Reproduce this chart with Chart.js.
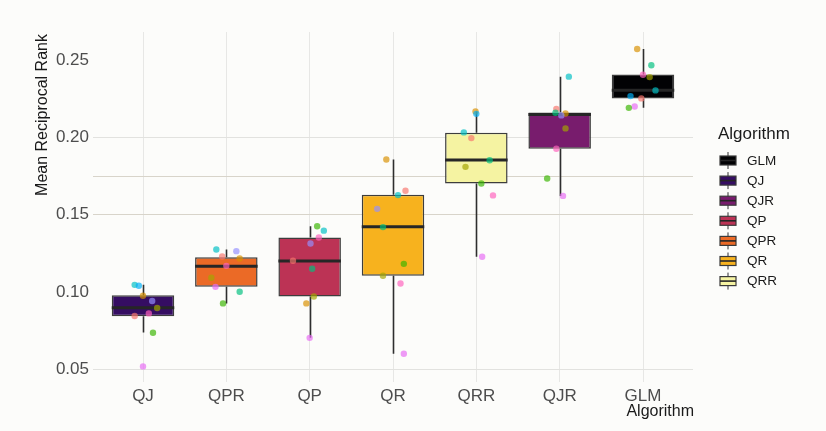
<!DOCTYPE html>
<html>
<head>
<meta charset="utf-8">
<script src="https://cdn.jsdelivr.net/npm/chart.js@4/dist/chart.umd.min.js"></script>
<style>
  html, body { margin: 0; padding: 0; background: #fcfcfa; }
  #wrap { width: 826px; height: 431px; position: relative; }
</style>
</head>
<body>
<div id="wrap"><canvas id="c" width="826" height="431"></canvas></div>
<script>
// Algorithms in plotting order along the x axis
const categories = ['QJ', 'QPR', 'QP', 'QR', 'QRR', 'QJR', 'GLM'];

// Box-plot summaries (mean reciprocal rank)
const boxLow    = [0.0738, 0.0926, 0.0703, 0.0600, 0.1228, 0.1622, 0.2192];
const boxQ1     = [0.0842, 0.1033, 0.0971, 0.1105, 0.1702, 0.1927, 0.2252];
const boxMedian = [0.0897, 0.1167, 0.1200, 0.1422, 0.1855, 0.2149, 0.2306];
const boxQ3     = [0.0978, 0.1224, 0.1353, 0.1629, 0.2030, 0.2162, 0.2408];
const boxHigh   = [0.1046, 0.1275, 0.1425, 0.1858, 0.2168, 0.2394, 0.2573];

// Fill colour of each box (same order as categories)
const boxFill = ['#350D62', '#EB6A26', '#BC3355', '#F7B21E', '#F5F3A2', '#781C6D', '#020204'];

// Legend entries, alphabetical
const legendOrder = ['GLM', 'QJ', 'QJR', 'QP', 'QPR', 'QR', 'QRR'];

// Axis ticks and the horizontal guide lines that are drawn
const yTicks = [0.05, 0.10, 0.15, 0.20, 0.25];
const yGuides = [0.05, 0.15, 0.175, 0.20];

// Individual runs, one row per algorithm
const pointValues = [
  [0.1046, 0.1040, 0.0975, 0.0941, 0.0896, 0.0861, 0.0844, 0.0736, 0.0518],
  [0.1275, 0.1264, 0.1230, 0.1217, 0.1169, 0.1092, 0.1033, 0.1001, 0.0926],
  [0.1425, 0.1397, 0.1353, 0.1314, 0.1202, 0.1150, 0.0971, 0.0926, 0.0703],
  [0.1858, 0.1655, 0.1627, 0.1538, 0.1420, 0.1182, 0.1105, 0.1055, 0.0600],
  [0.2168, 0.2153, 0.2033, 0.1996, 0.1853, 0.1810, 0.1702, 0.1625, 0.1228],
  [0.2394, 0.2185, 0.2160, 0.2155, 0.2143, 0.2059, 0.1927, 0.1735, 0.1622],
  [0.2573, 0.2468, 0.2406, 0.2391, 0.2305, 0.2268, 0.2253, 0.2201, 0.2192]
];
// Horizontal jitter of each run, in category units
const pointJitter = [
  [-0.10, -0.05, 0.00, 0.11, 0.17, 0.07, -0.10, 0.12, 0.00],
  [-0.12, 0.12, -0.05, 0.16, 0.00, -0.18, -0.13, 0.16, -0.04],
  [0.09, 0.17, 0.11, 0.01, -0.20, 0.03, 0.05, -0.04, 0.00],
  [-0.08, 0.15, 0.06, -0.19, -0.12, 0.13, -0.12, 0.09, 0.13],
  [-0.01, 0.00, -0.15, -0.06, 0.16, -0.13, 0.06, 0.20, 0.07],
  [0.11, -0.04, -0.05, 0.07, 0.02, 0.07, -0.04, -0.15, 0.04],
  [-0.07, 0.10, 0.00, 0.08, 0.15, -0.15, -0.02, -0.10, -0.17]
];
// Colour index of each run
const pointColour = [
  [5, 6, 1, 7, 2, 9, 0, 3, 8],
  [5, 7, 0, 1, 9, 2, 8, 4, 3],
  [3, 5, 9, 7, 0, 4, 2, 1, 8],
  [1, 0, 5, 7, 4, 3, 2, 9, 8],
  [1, 6, 5, 0, 4, 2, 3, 9, 8],
  [5, 0, 4, 1, 7, 2, 9, 3, 8],
  [1, 4, 9, 2, 5, 6, 0, 8, 3]
];
const pointPalette = ['#F8766D', '#D89000', '#A3A500', '#39B600', '#00BF7D',
                      '#00BFC4', '#00B0F6', '#9590FF', '#E76BF3', '#FF62BC'];

const FONT = '"Liberation Sans", Arial, sans-serif';

function withAlpha(hex, a) {
  const n = parseInt(hex.slice(1), 16);
  return `rgba(${(n >> 16) & 255},${(n >> 8) & 255},${n & 255},${a})`;
}

const runPoints = [];
const runColours = [];
categories.forEach((c, i) => {
  pointValues[i].forEach((v, j) => {
    runPoints.push({ x: i + pointJitter[i][j], y: v });
    runColours.push(withAlpha(pointPalette[pointColour[i][j]], 0.68));
  });
});

const boxPlotPlugin = {
  id: 'boxPlot',
  beforeDraw(chart) {
    const ctx = chart.ctx;
    ctx.save();
    ctx.fillStyle = '#fcfcfa';
    ctx.fillRect(0, 0, chart.width, chart.height);
    ctx.restore();
  },
  beforeDatasetDraw(chart, args) {
    if (args.index !== 1) return;
    const { ctx, scales: { x, y } } = chart;
    ctx.save();
    ctx.strokeStyle = '#2e2e2e';
    ctx.lineWidth = 1.6;
    categories.forEach((c, i) => {
      const px = Math.round(x.getPixelForValue(i)) + 0.5;
      ctx.beginPath();
      ctx.moveTo(px, y.getPixelForValue(boxHigh[i]));
      ctx.lineTo(px, y.getPixelForValue(boxQ3[i]));
      ctx.moveTo(px, y.getPixelForValue(boxQ1[i]));
      ctx.lineTo(px, y.getPixelForValue(boxLow[i]));
      ctx.stroke();
    });
    ctx.restore();
  },
  afterDatasetDraw(chart, args) {
    if (args.index !== 1) return;
    const { ctx, scales: { y } } = chart;
    const meta = chart.getDatasetMeta(1);
    ctx.save();
    ctx.strokeStyle = '#262626';
    ctx.lineWidth = 3;
    meta.data.forEach((bar, i) => {
      const py = y.getPixelForValue(boxMedian[i]);
      ctx.beginPath();
      ctx.moveTo(bar.x - bar.width / 2, py);
      ctx.lineTo(bar.x + bar.width / 2, py);
      ctx.stroke();
    });
    ctx.restore();
  },
  afterDraw(chart) {
    const { ctx, chartArea } = chart;
    ctx.save();
    // axis titles
    ctx.fillStyle = '#1a1a1a';
    ctx.font = `16px ${FONT}`;
    ctx.textBaseline = 'middle';
    ctx.textAlign = 'right';
    ctx.fillText('Algorithm', chartArea.right + 1, 412);
    ctx.save();
    ctx.translate(43, 115);
    ctx.rotate(-Math.PI / 2);
    ctx.textAlign = 'center';
    ctx.fillText('Mean Reciprocal Rank', 0, 0);
    ctx.restore();

    // legend
    ctx.textAlign = 'left';
    ctx.font = `17px ${FONT}`;
    ctx.fillText('Algorithm', 718, 134);
    ctx.font = `13.5px ${FONT}`;
    legendOrder.forEach((name, k) => {
      const yc = 160.5 + k * 20.1;
      const fill = boxFill[categories.indexOf(name)];
      const kx = 720, kw = 16;
      ctx.strokeStyle = '#333333';
      ctx.lineWidth = 1;
      ctx.beginPath();
      ctx.moveTo(kx + kw / 2, yc - 8.5);
      ctx.lineTo(kx + kw / 2, yc + 8.5);
      ctx.stroke();
      ctx.fillStyle = fill;
      ctx.fillRect(kx, yc - 4.5, kw, 9);
      ctx.lineWidth = 1.2;
      ctx.strokeStyle = '#3a3a3a';
      ctx.strokeRect(kx, yc - 4.5, kw, 9);
      ctx.lineWidth = 1.6;
      ctx.strokeStyle = '#262626';
      ctx.beginPath();
      ctx.moveTo(kx, yc);
      ctx.lineTo(kx + kw, yc);
      ctx.stroke();
      ctx.fillStyle = '#1a1a1a';
      ctx.fillText(name, 747, yc + 0.5);
    });
    ctx.restore();
  }
};

new Chart(document.getElementById('c'), {
  type: 'bar',
  data: {
    datasets: [
      {
        type: 'scatter',
        order: 1,
        data: runPoints,
        pointBackgroundColor: runColours,
        pointBorderWidth: 0,
        pointRadius: 3.2,
        pointHoverRadius: 3.2
      },
      {
        type: 'bar',
        order: 2,
        data: categories.map((c, i) => ({ x: i, y: [boxQ1[i], boxQ3[i]] })),
        backgroundColor: boxFill,
        borderColor: '#3d3d3d',
        borderWidth: 1.5,
        borderSkipped: false,
        barPercentage: 0.75,
        categoryPercentage: 1.0,
        grouped: false
      }
    ]
  },
  options: {
    responsive: false,
    animation: false,
    events: [],
    layout: { padding: { top: 32, right: 133, left: 0, bottom: 0 } },
    plugins: { legend: { display: false }, tooltip: { enabled: false } },
    scales: {
      x: {
        type: 'linear',
        min: -0.6,
        max: 6.6,
        offset: false,
        afterBuildTicks: s => { s.ticks = categories.map((c, i) => ({ value: i })); },
        afterFit: s => { s.height = 49; },
        grid: { color: '#e7e7e5', lineWidth: 1, drawTicks: false, offset: false },
        border: { display: false },
        ticks: {
          autoSkip: false,
          maxRotation: 0,
          padding: 4,
          color: '#4d4d4d',
          font: { family: FONT, size: 17 },
          callback: v => categories[v]
        }
      },
      y: {
        type: 'linear',
        min: 0.0417,
        max: 0.2683,
        afterBuildTicks: s => {
          s.ticks = [0.05, 0.10, 0.15, 0.175, 0.20, 0.25].map(v => ({ value: v }));
        },
        afterFit: s => { s.width = 93; },
        grid: {
          drawTicks: false,
          lineWidth: 1,
          color: c => {
            const v = c.tick ? c.tick.value : null;
            if (!yGuides.includes(v)) return 'rgba(0,0,0,0)';
            return (v === 0.15 || v === 0.175) ? '#d8d4ca' : '#e2e2df';
          }
        },
        border: { display: false },
        ticks: {
          padding: 4,
          color: '#4d4d4d',
          font: { family: FONT, size: 17 },
          callback: v => (yTicks.includes(v) ? v.toFixed(2) : '')
        }
      }
    }
  },
  plugins: [boxPlotPlugin]
});
</script>
</body>
</html>
